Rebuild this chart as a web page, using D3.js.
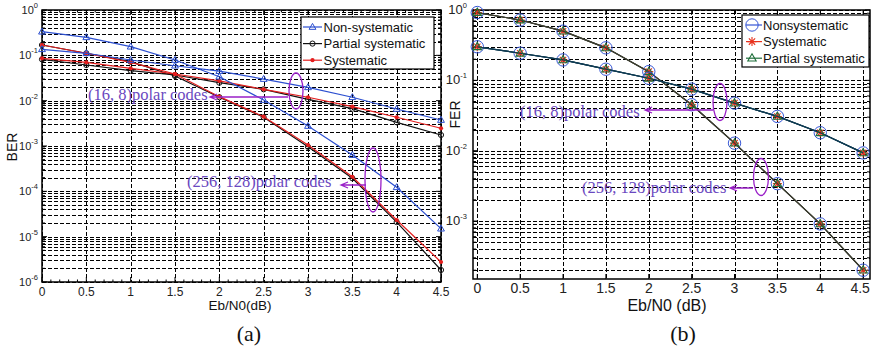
<!DOCTYPE html>
<html>
<head>
<meta charset="utf-8">
<script src="https://cdn.jsdelivr.net/npm/d3@7"></script>
<style>
  body { margin: 0; background: #fff; }
  svg { display: block; }
</style>
</head>
<body>
<svg id="chart" width="871" height="350"></svg>
<script>
// Eb/N0 points (dB)
const snr = [0, 0.5, 1, 1.5, 2, 2.5, 3, 3.5, 4, 4.5];
const xTickLabels = ["0", "0.5", "1", "1.5", "2", "2.5", "3", "3.5", "4", "4.5"];

// (a) BER
const berNon16 = [0.136, 0.111, 0.079, 0.059, 0.045, 0.030, 0.0197, 0.0119, 0.00655, 0.00374];
const berNon256 = [0.332, 0.25, 0.155, 0.079, 0.0338, 0.01035, 0.00276, 0.00063, 0.000123, 0.000015];
const berPart16 = [0.0817, 0.0612, 0.0458, 0.0368, 0.0249, 0.0178, 0.0107, 0.00665, 0.00333, 0.00175];
const berPart256 = [0.169, 0.111, 0.0724, 0.035, 0.0119, 0.0043, 0.00096, 0.000194, 0.000021, 0.00000184];
const berSys16 = [0.086, 0.070, 0.0518, 0.0387, 0.0272, 0.0178, 0.0119, 0.00736, 0.0043, 0.00246];
const berSys256 = [0.169, 0.111, 0.070, 0.0387, 0.01225, 0.00443, 0.00105, 0.00021, 0.0000233, 0.00000276];
const berExponents = [0, -1, -2, -3, -4, -5, -6];
const berLegend = ["Non-systematic", "Partial systematic", "Systematic"];

// (b) FER
const ferNon16 = [0.30, 0.243, 0.195, 0.144, 0.107, 0.075, 0.0475, 0.0307, 0.018, 0.0093];
const ferSys16 = [0.30, 0.243, 0.195, 0.144, 0.107, 0.075, 0.0475, 0.0307, 0.018, 0.0093];
const ferPart16 = [0.30, 0.243, 0.195, 0.144, 0.107, 0.075, 0.0475, 0.0307, 0.018, 0.0093];
const ferNon256 = [0.92, 0.72, 0.50, 0.29, 0.133, 0.045, 0.0128, 0.0034, 0.00091, 0.0002];
const ferSys256 = [0.92, 0.72, 0.50, 0.29, 0.133, 0.045, 0.0128, 0.0034, 0.00091, 0.0002];
const ferPart256 = [0.92, 0.72, 0.50, 0.29, 0.133, 0.045, 0.0128, 0.0034, 0.00091, 0.0002];
const ferExponents = [0, -1, -2, -3];
const ferLegend = ["Nonsystematic", "Systematic", "Partial systematic"];

const sans = "'Liberation Sans', Arial, sans-serif";
const serif = "'Liberation Serif', 'Times New Roman', serif";
const purpleText = "#6a48c0";
const purpleMark = "#9a20c8";

const svg = d3.select("#chart");

function pts(ys) {
  return snr.map((x, i) => [x, ys[i]]);
}

// frame, log grid, ticks and tick labels for one panel
function drawPanel(p) {
  const g = svg.append("g");
  const [x0, x1] = p.x.range();
  const [y1, y0] = p.y.range();
  const [lo, hi] = p.y.domain();

  // horizontal grid: every 1..9 x 10^k inside the domain
  const minor = [];
  for (let k = Math.floor(Math.log10(lo)); k < Math.ceil(Math.log10(hi)); k++) {
    for (let m = 1; m < 10; m++) {
      const v = m * Math.pow(10, k);
      if (v >= lo * 0.999 && v <= hi * 1.001) minor.push(v);
    }
  }
  if (hi === 1) minor.push(1);
  g.selectAll(".hgrid").data(minor).join("line")
    .attr("x1", x0).attr("x2", x1)
    .attr("y1", d => Math.round(p.y(d)) + 0.5).attr("y2", d => Math.round(p.y(d)) + 0.5)
    .attr("stroke", "#000").attr("stroke-width", 1)
    .attr("stroke-dasharray", "4,2");

  g.selectAll(".vgrid").data(snr).join("line")
    .attr("x1", d => Math.round(p.x(d)) + 0.5).attr("x2", d => Math.round(p.x(d)) + 0.5)
    .attr("y1", y0).attr("y2", y1)
    .attr("stroke", "#000").attr("stroke-width", 1)
    .attr("stroke-dasharray", "4,2");

  // y ticks, inward on both sides
  g.selectAll(".ytick").data(minor).join("path")
    .attr("d", d => {
      const lg = Math.log10(d);
      const len = Math.abs(lg - Math.round(lg)) < 1e-6 ? 5 : 3;
      const yy = p.y(d);
      return `M${x0},${yy}h${len}M${x1},${yy}h${-len}`;
    })
    .attr("stroke", "#000").attr("stroke-width", 1);

  // x ticks
  const xt = p.minorX ? d3.range(0, 4.51, 0.1) : snr;
  g.selectAll(".xtick").data(xt).join("path")
    .attr("d", d => {
      const len = snr.some(s => Math.abs(s - d) < 1e-6) ? 5 : 2.5;
      const xx = p.x(d);
      return `M${xx},${y1}v${-len}M${xx},${y0}v${len}`;
    })
    .attr("stroke", "#000").attr("stroke-width", 1);

  // box
  g.append("rect")
    .attr("x", x0).attr("y", y0)
    .attr("width", x1 - x0).attr("height", y1 - y0)
    .attr("fill", "none").attr("stroke", "#000").attr("stroke-width", 1.5);

  // x tick labels
  g.selectAll(".xl").data(snr).join("text")
    .attr("x", (d, i) => p.x(d) + (i === snr.length - 1 ? p.lastShift : 0)).attr("y", y1 + p.xLabelDy)
    .attr("text-anchor", "middle")
    .attr("font-family", sans).attr("font-size", p.tickSize)
    .attr("fill", "#222")
    .text((d, i) => xTickLabels[i]);

  // y tick labels 10^k
  const yl = g.selectAll(".yl").data(p.exps).join("text")
    .attr("x", p.yLabelX).attr("y", d => p.y(Math.pow(10, d)) + 4)
    .attr("text-anchor", "end")
    .attr("font-family", sans).attr("font-size", p.tickSize - 1)
    .attr("fill", "#222");
  yl.append("tspan").text("10");
  yl.append("tspan").attr("dy", -6).attr("font-size", 7.5).text(d => String(d));

  // axis titles
  g.append("text")
    .attr("transform", `translate(${p.yTitleX},${(y0 + y1) / 2 + p.yTitleDy}) rotate(-90)`)
    .attr("text-anchor", "middle")
    .attr("font-family", sans).attr("font-size", 14)
    .attr("fill", "#111").text(p.yTitle);
  g.append("text")
    .attr("x", p.xTitleX).attr("y", p.xTitleY)
    .attr("text-anchor", "middle")
    .attr("font-family", sans).attr("font-size", p.xTitleSize)
    .attr("fill", "#111").text("Eb/N0" + p.xTitleGap + "(dB)");
  g.append("text")
    .attr("x", p.capX).attr("y", 341)
    .attr("text-anchor", "middle")
    .attr("font-family", serif).attr("font-size", 22)
    .attr("fill", "#111").text(p.caption);
  return g;
}

function triangle(s) {
  return `M0,${-s}L${s * 0.95},${s * 0.65}L${-s * 0.95},${s * 0.65}Z`;
}
function asterisk(s) {
  const d = s * 0.7;
  return `M${-s},0H${s}M0,${-s}V${s}M${-d},${-d}L${d},${d}M${-d},${d}L${d},${-d}`;
}

function drawSeries(g, x, y, data, color, marker, lineColor) {
  const line = d3.line().x(d => x(d[0])).y(d => y(d[1]));
  g.append("path")
    .datum(data)
    .attr("d", line)
    .attr("fill", "none")
    .attr("stroke", lineColor || color)
    .attr("stroke-width", 1.2);
  drawMarkers(g, data.map(d => [x(d[0]), y(d[1])]), color, marker);
}

function drawMarkers(g, xy, color, marker) {
  const m = g.selectAll(null).data(xy).join("g")
    .attr("transform", d => `translate(${d[0]},${d[1]})`);
  if (marker === "tri") {
    m.append("path").attr("d", triangle(3.6)).attr("fill", "none").attr("stroke", color).attr("stroke-width", 1);
  } else if (marker === "circ") {
    m.append("circle").attr("r", 2.6).attr("fill", "none").attr("stroke", color).attr("stroke-width", 1);
  } else if (marker === "dot") {
    m.append("circle").attr("r", 2.1).attr("fill", color);
  } else if (marker === "bigcirc") {
    m.append("circle").attr("r", 6.2).attr("fill", "none").attr("stroke", color).attr("stroke-width", 1);
  } else if (marker === "star") {
    m.append("path").attr("d", asterisk(4.5)).attr("stroke", color).attr("stroke-width", 1.1);
  } else if (marker === "gtri") {
    m.append("path").attr("d", triangle(4.4)).attr("fill", "none").attr("stroke", color).attr("stroke-width", 1.1);
  }
}

function drawLegend(bx, by, bw, bh, rows, textX, lineX0, lineX1, markX) {
  const g = svg.append("g");
  g.append("rect").attr("x", bx).attr("y", by).attr("width", bw).attr("height", bh)
    .attr("fill", "#fff").attr("stroke", "#000").attr("stroke-width", 1.2);
  rows.forEach((r, i) => {
    const cy = by + 10 + i * 16.6;
    g.append("line").attr("x1", lineX0).attr("x2", lineX1).attr("y1", cy).attr("y2", cy)
      .attr("stroke", r.color).attr("stroke-width", 1.2);
    drawMarkers(g, [[markX, cy]], r.color, r.marker);
    g.append("text").attr("x", textX).attr("y", cy + 4.8)
      .attr("font-family", sans).attr("font-size", 13).attr("fill", "#111")
      .text(r.label);
  });
}

function note(text, tx, ty, tipX, tipY, lineEnd, ex, ey, rx, ry) {
  svg.append("text").attr("x", tx).attr("y", ty)
    .attr("font-family", serif).attr("font-size", 16.5)
    .attr("fill", purpleText).text(text);
  svg.append("path")
    .attr("d", `M${lineEnd},${tipY}H${tipX}M${tipX + 7},${tipY - 3}L${tipX},${tipY}L${tipX + 7},${tipY + 3}`)
    .attr("fill", "none").attr("stroke", purpleMark).attr("stroke-width", 1.3);
  svg.append("ellipse").attr("cx", ex).attr("cy", ey).attr("rx", rx).attr("ry", ry)
    .attr("fill", "none").attr("stroke", purpleMark).attr("stroke-width", 1.3);
}

// ---------- (a) BER ----------
const xa = d3.scaleLinear().domain([0, 4.5]).range([42, 441]);
const ya = d3.scaleLog().domain([1e-6, 1]).range([282, 10]);
const ga = drawPanel({
  x: xa, y: ya, exps: berExponents, minorX: true, tickSize: 12, lastShift: 0,
  xLabelDy: 14, yLabelX: 38, yTitle: "BER", yTitleX: 17, yTitleDy: 1,
  xTitleX: 240, xTitleY: 310, xTitleSize: 13.5, xTitleGap: "",
  capX: 249, caption: "(a)"
});
const blue = "#2c4fd0", red = "#e41e1e", black = "#111";
drawSeries(ga, xa, ya, pts(berPart16), black, "circ");
drawSeries(ga, xa, ya, pts(berPart256), black, "circ");
drawSeries(ga, xa, ya, pts(berSys16), red, "dot");
drawSeries(ga, xa, ya, pts(berSys256), red, "dot");
drawSeries(ga, xa, ya, pts(berNon16), blue, "tri");
drawSeries(ga, xa, ya, pts(berNon256), blue, "tri");

drawLegend(301, 17, 133, 52, [
  { label: berLegend[0], color: blue, marker: "tri" },
  { label: berLegend[1], color: black, marker: "circ" },
  { label: berLegend[2], color: red, marker: "dot" }
], 323.5, 303, 322, 312.5);

note("(16, 8)polar codes", 88, 100, 210, 97, 288, 296, 91, 7, 18);
note("(256, 128)polar codes", 187, 187, 341, 185, 366, 373, 180, 8, 32);

// ---------- (b) FER ----------
const xb = d3.scaleLinear().domain([-0.05, 4.58]).range([473, 870]);
const yb = d3.scaleLog().domain([1.5e-4, 1]).range([279, 10]);
const gb = drawPanel({
  x: xb, y: yb, exps: ferExponents, minorX: false, tickSize: 14, lastShift: -3,
  xLabelDy: 14, yLabelX: 467, yTitle: "FER", yTitleX: 460, yTitleDy: -30,
  xTitleX: 667, xTitleY: 311, xTitleSize: 16, xTitleGap: " ",
  capX: 683, caption: "(b)"
});
const cBlue = "#3656d6", cRed = "#e8321e", cGreen = "#1f6e3a";
const line256 = "#3b3d30", line16 = "#0f3b52";
[[ferNon256, ferSys256, ferPart256, line256], [ferNon16, ferSys16, ferPart16, line16]].forEach(c => {
  drawSeries(gb, xb, yb, pts(c[0]), cBlue, "bigcirc", c[3]);
  drawSeries(gb, xb, yb, pts(c[1]), cRed, "star", c[3]);
  drawSeries(gb, xb, yb, pts(c[2]), cGreen, "gtri", c[3]);
});

drawLegend(742, 15, 127, 52, [
  { label: ferLegend[0], color: cBlue, marker: "bigcirc" },
  { label: ferLegend[1], color: cRed, marker: "star" },
  { label: ferLegend[2], color: cGreen, marker: "gtri" }
], 763, 746, 762, 752);

note("(16, 8)polar codes", 520, 117, 645, 110, 713, 720, 102, 7, 18.5);
note("(256, 128)polar codes", 582, 193, 730, 188, 753, 761, 177, 7.5, 18.5);
</script>
</body>
</html>
